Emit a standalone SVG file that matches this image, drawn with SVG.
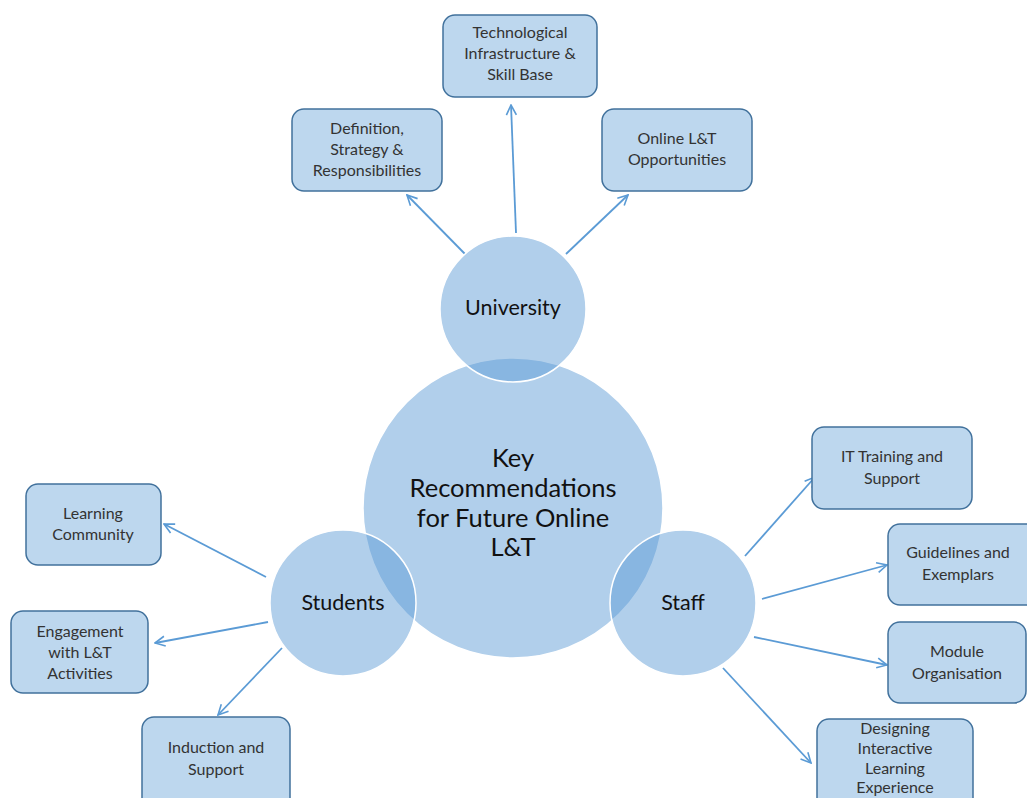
<svg xmlns="http://www.w3.org/2000/svg" width="1027" height="798" viewBox="0 0 1027 798">
<defs>
<style>
.box{fill:#bdd7ee;stroke:#41719c;stroke-width:1.5}
.bt{font-family:Lato,"Open Sans",sans-serif;font-size:16px;fill:#333333;text-anchor:middle}
.circ{fill:#5b9bd5;fill-opacity:0.48;stroke:#ffffff;stroke-width:1.5}
.ct{font-family:Lato,"Open Sans",sans-serif;font-size:21.5px;fill:#111111;text-anchor:middle}
.big{font-family:Lato,"Open Sans",sans-serif;font-size:25.5px;fill:#111111;text-anchor:middle}
.con{stroke:#5b9bd5;stroke-width:1.8;fill:none;marker-end:url(#arr)}
</style>
<marker id="arr" viewBox="0 0 12 12" refX="11" refY="6" markerWidth="12" markerHeight="12" markerUnits="userSpaceOnUse" orient="auto">
<path d="M1,1 L11,6 L1,11" fill="none" stroke="#5b9bd5" stroke-width="1.6"/>
</marker>
</defs>
<rect width="1027" height="798" fill="#ffffff"/>
<g id="connectors">
<line class="con" x1="465" y1="254" x2="407" y2="195"/>
<line class="con" x1="516" y1="233" x2="511" y2="105"/>
<line class="con" x1="566" y1="254" x2="628" y2="195"/>
<line class="con" x1="266" y1="577" x2="164" y2="524"/>
<line class="con" x1="268" y1="622" x2="155" y2="643"/>
<line class="con" x1="282" y1="648" x2="218" y2="715"/>
<line class="con" x1="745" y1="556" x2="815" y2="477"/>
<line class="con" x1="762" y1="599" x2="887" y2="565"/>
<line class="con" x1="754" y1="637" x2="887" y2="665"/>
<line class="con" x1="723" y1="668" x2="811" y2="763"/>
</g>
<g id="central"><circle class="circ" cx="513" cy="508" r="150"/></g>
<g id="university"><circle class="circ" cx="513" cy="309" r="73"/></g>
<g id="students"><circle class="circ" cx="343" cy="603" r="73"/></g>
<g id="staff"><circle class="circ" cx="683" cy="603" r="73"/></g>
<g id="labels">
<text class="big" x="513" y="467">Key</text>
<text class="big" x="513" y="497">Recommendations</text>
<text class="big" x="513" y="527">for Future Online</text>
<text class="big" x="513" y="556">L&amp;T</text>
<text class="ct" x="513" y="315">University</text>
<text class="ct" x="343" y="610">Students</text>
<text class="ct" x="683" y="610">Staff</text>
</g>
<g id="tech"><rect class="box" x="443" y="15" width="154" height="82" rx="12"/>
<text class="bt" x="520" y="38">Technological</text><text class="bt" x="520" y="59">Infrastructure &amp;</text><text class="bt" x="520" y="80">Skill Base</text></g>
<g id="definition"><rect class="box" x="292" y="109" width="150" height="82" rx="12"/>
<text class="bt" x="367" y="134">Definition,</text><text class="bt" x="367" y="155">Strategy &amp;</text><text class="bt" x="367" y="176">Responsibilities</text></g>
<g id="online"><rect class="box" x="602" y="109" width="150" height="82" rx="12"/>
<text class="bt" x="677" y="144">Online L&amp;T</text><text class="bt" x="677" y="165">Opportunities</text></g>
<g id="ittraining"><rect class="box" x="812" y="427" width="160" height="82" rx="12"/>
<text class="bt" x="892" y="462">IT Training and</text><text class="bt" x="892" y="484">Support</text></g>
<g id="guidelines"><rect class="box" x="888" y="524" width="150" height="81" rx="12"/>
<text class="bt" x="958" y="558">Guidelines and</text><text class="bt" x="958" y="580">Exemplars</text></g>
<g id="module"><rect class="box" x="888" y="622" width="138" height="81" rx="12"/>
<text class="bt" x="957" y="657">Module</text><text class="bt" x="957" y="679">Organisation</text></g>
<g id="designing"><rect class="box" x="817" y="719" width="156" height="95" rx="12"/>
<text class="bt" x="895" y="734">Designing</text><text class="bt" x="895" y="754">Interactive</text><text class="bt" x="895" y="774">Learning</text><text class="bt" x="895" y="793">Experience</text></g>
<g id="learning"><rect class="box" x="26" y="484" width="135" height="81" rx="12"/>
<text class="bt" x="93" y="519">Learning</text><text class="bt" x="93" y="540">Community</text></g>
<g id="engagement"><rect class="box" x="11" y="611" width="137" height="82" rx="12"/>
<text class="bt" x="80" y="637">Engagement</text><text class="bt" x="80" y="658">with L&amp;T</text><text class="bt" x="80" y="679">Activities</text></g>
<g id="induction"><rect class="box" x="142" y="717" width="148" height="95" rx="12"/>
<text class="bt" x="216" y="753">Induction and</text><text class="bt" x="216" y="775">Support</text></g>
</svg>
